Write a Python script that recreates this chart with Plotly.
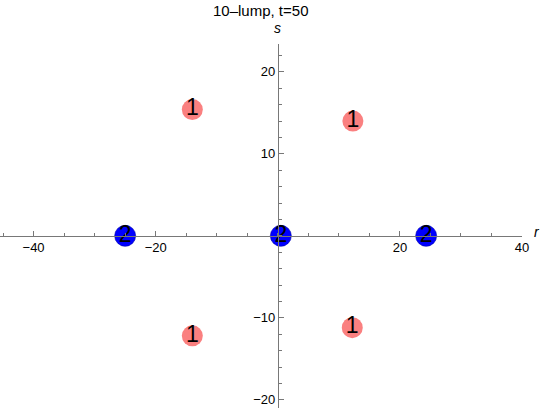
import numpy as np
import plotly.graph_objects as go

# Data
pink_r = [-14.0, 12.3, -14.0, 12.2]
pink_s = [15.4, 14.0, -12.2, -11.2]
pink_labels = ["1", "1", "1", "1"]

blue_r = [-25.0, 0.5, 24.3]
blue_s = [0.0, 0.0, 0.0]
blue_labels = ["2", "2", "2"]

x_major = [-40, -20, 20, 40]
y_major = [-20, -10, 10, 20]
x_minor = list(np.arange(-45, 41, 5))
y_minor = list(np.arange(-20, 24, 2))

x_range = [-45.5, 40]
y_range = [-21, 23.4]

FONT = "Liberation Sans, Arial, sans-serif"

fig = go.Figure()
fig.add_trace(go.Scatter(
    x=pink_r, y=pink_s, mode="markers+text", text=pink_labels,
    textposition="middle center",
    textfont=dict(family=FONT, size=23, color="black"),
    marker=dict(size=21, color="rgb(250,128,128)", line=dict(width=0)),
    showlegend=False, cliponaxis=False,
))
fig.add_trace(go.Scatter(
    x=blue_r, y=blue_s, mode="markers+text", text=blue_labels,
    textposition="middle center",
    textfont=dict(family=FONT, size=23, color="black"),
    marker=dict(size=21, color="rgb(0,0,255)", line=dict(width=0.6, color="rgb(0,0,170)")),
    showlegend=False, cliponaxis=False,
))

y0_frac = (0 - y_range[0]) / (y_range[1] - y_range[0])
x0_frac = (0 - x_range[0]) / (x_range[1] - x_range[0])

axis_font = dict(family=FONT, size=13, color="black")
GRAY = "rgb(120,120,120)"

fig.update_layout(
    width=540, height=412,
    margin=dict(l=0, r=18, t=44, b=4, autoexpand=False),
    paper_bgcolor="white", plot_bgcolor="white",
    xaxis=dict(
        range=x_range, showgrid=False, zeroline=False, automargin=False,
        showline=True, linecolor=GRAY, linewidth=1,
        anchor="free", position=y0_frac, side="bottom",
        tickmode="array", tickvals=x_major,
        ticks="inside", ticklen=5, tickcolor=GRAY, tickwidth=1,
        tickfont=axis_font,
        minor=dict(tickmode="array", tickvals=x_minor, ticks="inside", ticklen=3,
                   tickcolor=GRAY, showgrid=False),
        layer="above traces",
    ),
    yaxis=dict(
        range=y_range, showgrid=False, zeroline=False, automargin=False,
        showline=True, linecolor=GRAY, linewidth=1,
        anchor="free", position=x0_frac, side="left",
        tickmode="array", tickvals=y_major,
        ticks="inside", ticklen=5, tickcolor=GRAY, tickwidth=1,
        tickfont=axis_font,
        minor=dict(tickmode="array", tickvals=y_minor, ticks="inside", ticklen=3,
                   tickcolor=GRAY, showgrid=False),
        layer="above traces",
    ),
    annotations=[
        dict(text="10\u2013lump, t=50", xref="paper", yref="paper", x=0.5, y=1.0,
             xanchor="center", yanchor="middle", yshift=34, showarrow=False,
             font=dict(family=FONT, size=15, color="black")),
        dict(text="<i>r</i>", xref="paper", yref="y", x=1.0, y=0, xanchor="left", yanchor="middle",
             xshift=10, yshift=4, showarrow=False,
             font=dict(family=FONT, size=14, color="black")),
        dict(text="<i>s</i>", xref="x", yref="paper", x=0, y=1.0, xanchor="center", yanchor="middle",
             yshift=16, showarrow=False,
             font=dict(family=FONT, size=14, color="black")),
    ],
)

fig.write_html("out.html", config={"displayModeBar": False},
               post_script="document.body.style.margin='0';")
